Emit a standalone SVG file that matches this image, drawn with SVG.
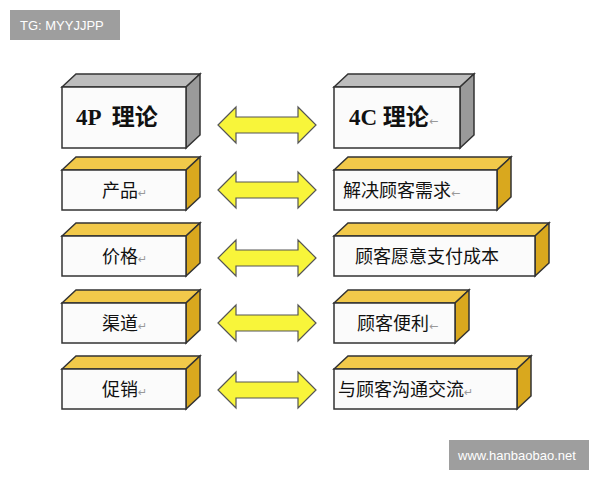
<svg xmlns="http://www.w3.org/2000/svg" width="600" height="480" viewBox="0 0 600 480">
<defs>
<style>
.f{fill:#fbfbfb;stroke:#333;stroke-width:1.5}
.tg{fill:#bdbdbd;stroke:#333;stroke-width:1.5}
.sg{fill:#9a9a9a;stroke:#333;stroke-width:1.5}
.ty{fill:#f2c94a;stroke:#333;stroke-width:1.5}
.sy{fill:#d9a81e;stroke:#333;stroke-width:1.5}
.t{font-family:"Noto Sans CJK SC",sans-serif;font-size:18px;fill:#111}
.h{font-family:"Liberation Serif","Noto Sans CJK SC",serif;font-size:23px;font-weight:bold;fill:#111}
.r{fill:#999;font-size:11px;font-family:"DejaVu Sans",sans-serif;font-weight:normal}
.a{fill:#f8f53a;stroke:#555;stroke-width:1.2}
.w{font-family:"Liberation Sans",sans-serif;font-size:13px;fill:#fff}
</style>
<path id="arr" d="M0 0 L18 -18 L18 -8 L80 -8 L80 -18 L98 0 L80 18 L80 8 L18 8 L18 18 Z"/>
</defs>
<rect width="600" height="480" fill="#fff"/>
<g id="n4p"><path class="tg" d="M62 87 L76 74 L200 74 L186 87 Z"/><path class="sg" d="M186 87 L200 74 L200 135 L186 148 Z"/><rect class="f" x="62" y="87" width="124" height="61"/><text class="h" x="76" y="125" xml:space="preserve">4P  理论</text></g>
<g id="n4c"><path class="tg" d="M334 87 L348 74 L474 74 L460 87 Z"/><path class="sg" d="M460 87 L474 74 L474 135 L460 148 Z"/><rect class="f" x="334" y="87" width="126" height="61"/><text class="h" x="349" y="125">4C 理论<tspan class="r">←</tspan></text></g>
<g id="l1"><path class="ty" d="M62 170 L76 157 L200 157 L186 170 Z"/><path class="sy" d="M186 170 L200 157 L200 197 L186 210 Z"/><rect class="f" x="62" y="170" width="124" height="40"/><text class="t" x="102" y="197">产品<tspan class="r">↵</tspan></text></g>
<g id="r1"><path class="ty" d="M334 170 L348 157 L511 157 L497 170 Z"/><path class="sy" d="M497 170 L511 157 L511 197 L497 210 Z"/><rect class="f" x="334" y="170" width="163" height="40"/><text class="t" x="343" y="197">解决顾客需求<tspan class="r">←</tspan></text></g>
<g id="l2"><path class="ty" d="M62 236 L76 223 L200 223 L186 236 Z"/><path class="sy" d="M186 236 L200 223 L200 263 L186 276 Z"/><rect class="f" x="62" y="236" width="124" height="40"/><text class="t" x="102" y="263">价格<tspan class="r">↵</tspan></text></g>
<g id="r2"><path class="ty" d="M334 236 L348 223 L549 223 L535 236 Z"/><path class="sy" d="M535 236 L549 223 L549 263 L535 276 Z"/><rect class="f" x="334" y="236" width="201" height="40"/><text class="t" x="355" y="263">顾客愿意支付成本</text></g>
<g id="l3"><path class="ty" d="M62 303 L76 290 L200 290 L186 303 Z"/><path class="sy" d="M186 303 L200 290 L200 330 L186 343 Z"/><rect class="f" x="62" y="303" width="124" height="40"/><text class="t" x="102" y="330">渠道<tspan class="r">↵</tspan></text></g>
<g id="r3"><path class="ty" d="M334 303 L348 290 L469 290 L455 303 Z"/><path class="sy" d="M455 303 L469 290 L469 330 L455 343 Z"/><rect class="f" x="334" y="303" width="121" height="40"/><text class="t" x="357" y="330">顾客便利<tspan class="r">←</tspan></text></g>
<g id="l4"><path class="ty" d="M62 369 L76 356 L200 356 L186 369 Z"/><path class="sy" d="M186 369 L200 356 L200 396 L186 409 Z"/><rect class="f" x="62" y="369" width="124" height="40"/><text class="t" x="102" y="396">促销<tspan class="r">↵</tspan></text></g>
<g id="r4"><path class="ty" d="M334 369 L348 356 L531 356 L517 369 Z"/><path class="sy" d="M517 369 L531 356 L531 396 L517 409 Z"/><rect class="f" x="334" y="369" width="183" height="40"/><text class="t" x="338" y="396">与顾客沟通交流<tspan class="r">↵</tspan></text></g>
<g id="connectors">
<use href="#arr" class="a" x="218" y="125"/>
<use href="#arr" class="a" x="218" y="190"/>
<use href="#arr" class="a" x="218" y="258"/>
<use href="#arr" class="a" x="218" y="323"/>
<use href="#arr" class="a" x="218" y="390"/>
</g>
<rect x="10" y="10" width="110" height="30" fill="#9e9e9e"/><text class="w" x="20" y="30">TG: MYYJJPP</text>
<rect x="449" y="440" width="140" height="30" fill="#9e9e9e"/><text class="w" x="458" y="460">www.hanbaobao.net</text>
</svg>
